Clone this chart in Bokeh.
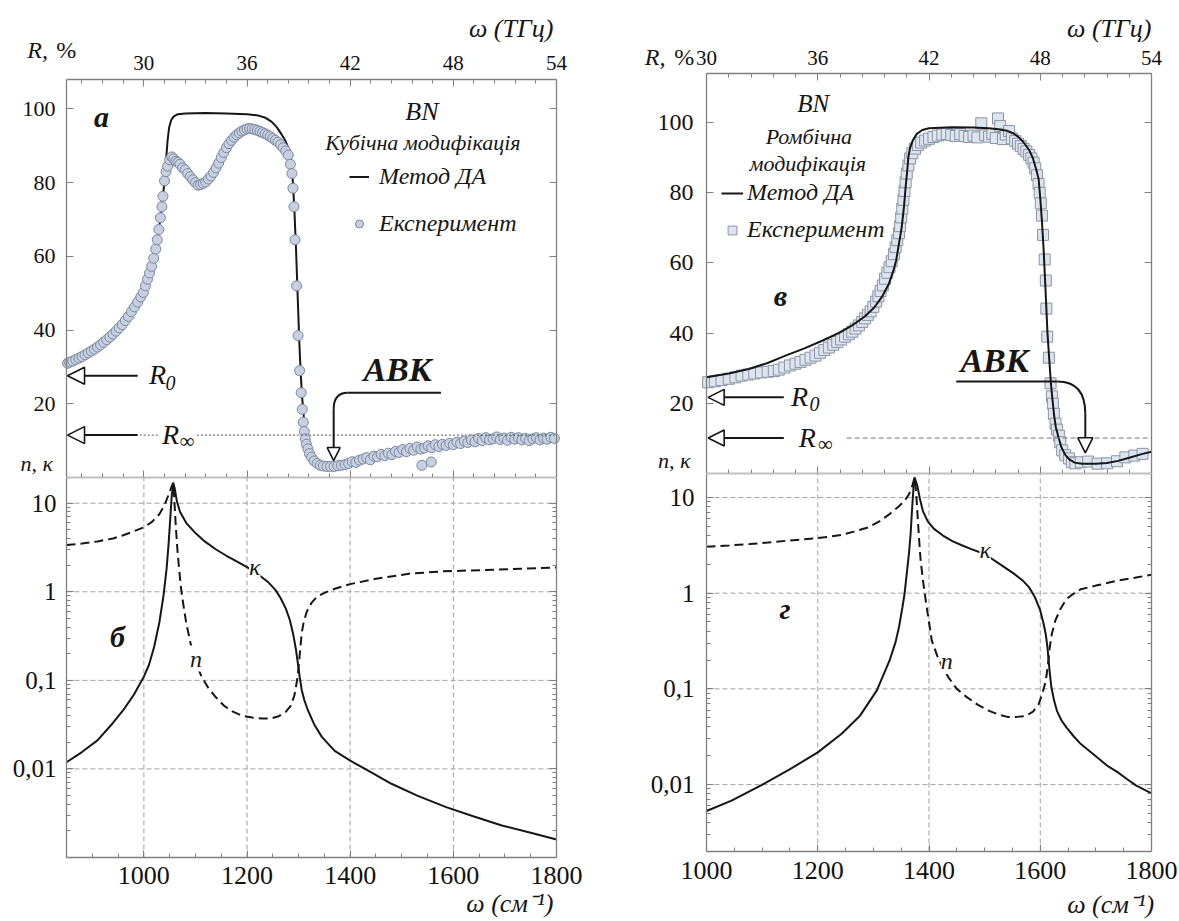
from bokeh.plotting import figure
from bokeh.layouts import row, column
from bokeh.models import (LinearAxis, LogAxis, Range1d, FixedTicker, Label, Arrow,
                          NormalHead, CustomJSTickFormatter, Legend, LegendItem)
from bokeh.embed import file_html
from bokeh.resources import INLINE
import math

FONT = "Liberation Serif"
GRAY = "#808080"
INK = "#161616"

# ---------------- data: panel a (cubic BN, reflectance) ----------------
a_model_w = [850, 900, 950, 980, 1000, 1015, 1025, 1033, 1039, 1043, 1046, 1049, 1053, 1058, 1066,
             1080, 1120, 1160, 1200, 1222, 1236, 1248, 1258, 1266, 1274, 1280, 1285, 1289, 1292,
             1295, 1298, 1301, 1304, 1307, 1310, 1315, 1320, 1327, 1337, 1350, 1365]
a_model_R = [31.0, 34.3, 40.0, 45.5, 50.5, 57.0, 63.5, 71.0, 79.0, 86.0, 91.5, 95.0, 97.0, 98.0, 98.6,
             98.8, 98.9, 98.8, 98.6, 98.2, 97.6, 96.5, 95.0, 93.3, 91.5, 89.5, 86.0, 80.0, 72.0,
             62.0, 50.0, 38.0, 28.5, 21.5, 16.5, 11.5, 8.0, 5.5, 3.8, 3.0, 2.8]

a_exp_w = [852, 856, 862, 868, 874, 880, 886, 892, 898, 904, 910, 916, 922, 928, 934, 940, 946, 952,
           958, 964, 970, 976, 982, 988, 994, 999, 1003, 1007, 1011, 1015, 1019, 1023, 1026, 1029,
           1032, 1035, 1037, 1040, 1043, 1046, 1050, 1054, 1058, 1062, 1066, 1070, 1075, 1080, 1085,
           1090, 1095, 1100, 1105, 1110, 1115, 1120, 1125, 1130, 1135, 1140, 1145, 1150, 1155, 1160,
           1165, 1170, 1175, 1180, 1185, 1190, 1195, 1200, 1205, 1210, 1215, 1220, 1225, 1230, 1235,
           1240, 1245, 1250, 1255, 1260, 1265, 1270, 1275, 1280, 1284, 1287, 1289, 1291, 1293, 1296,
           1299, 1302, 1305, 1307, 1309, 1311, 1313, 1315, 1318, 1321, 1325, 1330, 1336, 1342, 1348,
           1355, 1362, 1369, 1376, 1383, 1390, 1397, 1404, 1411, 1418, 1425, 1432, 1439, 1446, 1453,
           1460, 1467, 1474, 1481, 1488, 1495, 1502, 1509, 1516, 1523, 1530, 1537, 1539, 1544, 1551,
           1557, 1558, 1565, 1572, 1579, 1586, 1593, 1600, 1607, 1614, 1621, 1628, 1635, 1642, 1649,
           1656, 1663, 1670, 1677, 1684, 1691, 1698, 1705, 1712, 1719, 1726, 1733, 1740, 1747, 1754,
           1761, 1768, 1775, 1782, 1789, 1796]
a_exp_R = [31.0, 31.3, 31.6, 32.0, 32.4, 32.8, 33.3, 33.8, 34.3, 34.8, 35.4, 36.0, 36.7, 37.4, 38.1,
           38.9, 39.7, 40.6, 41.5, 42.6, 43.7, 45.0, 46.3, 47.6, 49.0, 50.2, 52.0, 53.8, 55.5, 57.3,
           59.5, 62.0, 64.5, 67.3, 70.5, 73.5, 76.3, 80.5, 83.0, 84.5, 86.2, 87.0, 86.5, 85.8, 85.5,
           85.0, 84.0, 83.5, 82.5, 81.6, 80.8, 80.0, 79.3, 79.5, 79.8, 80.2, 81.0, 81.8, 82.8, 84.0,
           85.3, 86.8, 88.2, 89.5, 90.6, 91.5, 92.3, 93.0, 93.5, 94.0, 94.3, 94.6, 94.7, 94.6, 94.4,
           94.2, 93.9, 93.6, 93.3, 92.9, 92.5, 92.0, 91.5, 91.0, 90.3, 89.5, 88.6, 87.5, 85.0, 82.5,
           78.5, 73.5, 64.5, 52.0, 38.5, 29.0, 23.0, 18.5, 15.0, 12.5, 10.5, 9.0, 7.8, 6.5, 5.5, 4.5,
           3.8, 3.3, 3.1, 3.0, 3.0, 3.0, 3.2, 3.3, 3.5, 3.8, 4.3, 4.1, 4.7, 5.0, 5.4, 4.8, 5.8, 5.6,
           6.3, 5.9, 6.6, 6.2, 7.1, 6.8, 7.6, 7.0, 7.9, 7.4, 8.3, 7.7, 3.3, 8.0, 8.6, 4.2, 8.1, 8.9,
           8.4, 9.0, 8.7, 9.3, 8.9, 9.6, 9.2, 9.9, 9.5, 10.2, 9.7, 10.6, 10.0, 10.8, 10.2, 10.5, 11.0,
           10.3, 10.7, 10.1, 10.9, 10.4, 10.8, 10.2, 10.6, 10.0, 10.5, 10.8, 10.2, 10.7, 10.4, 10.9,
           10.6]

# ---------------- data: panel б (cubic BN, n and kappa) ----------------
b_kappa_w = [850, 880, 910, 940, 960, 980, 1000, 1010, 1020, 1030, 1038, 1044, 1048, 1051, 1054,
             1057, 1060, 1064, 1070, 1082, 1100, 1118, 1140, 1160, 1180, 1200, 1220, 1240, 1255,
             1265, 1275, 1283, 1290, 1295, 1299, 1302, 1306, 1311, 1318, 1330, 1345, 1370, 1400,
             1440, 1480, 1530, 1586, 1640, 1694, 1750, 1800]
b_kappa = [0.0119, 0.0155, 0.021, 0.033, 0.046, 0.068, 0.11, 0.15, 0.24, 0.45, 0.9, 1.8, 3.5, 6.5,
           12.0, 17.0, 14.5, 10.5, 8.0, 6.0, 4.6, 3.7, 3.0, 2.55, 2.2, 1.9, 1.6, 1.3, 1.05, 0.85,
           0.65, 0.48, 0.32, 0.22, 0.15, 0.11, 0.078, 0.06, 0.046, 0.032, 0.023, 0.016, 0.0124,
           0.0092, 0.0068, 0.005, 0.0037, 0.0029, 0.0023, 0.0019, 0.0016]
b_n_w = [850, 880, 910, 940, 960, 980, 1000, 1015, 1030, 1040, 1048, 1054, 1057, 1059, 1062, 1065,
         1068, 1072, 1076, 1082, 1090, 1100, 1112, 1125, 1140, 1155, 1170, 1190, 1210, 1230, 1245,
         1260, 1275, 1285, 1292, 1297, 1300, 1303, 1306, 1310, 1316, 1325, 1335, 1348, 1370, 1400,
         1450, 1514, 1580, 1659, 1730, 1800]
b_n = [3.37, 3.5, 3.7, 4.0, 4.35, 4.8, 5.35, 6.1, 7.5, 9.5, 12.5, 15.5, 17.0, 11.0, 5.4, 3.0, 1.9,
       1.1, 0.75, 0.45, 0.27, 0.16, 0.11, 0.082, 0.064, 0.052, 0.045, 0.04, 0.038, 0.037, 0.037,
       0.039, 0.044, 0.052, 0.068, 0.1, 0.14, 0.22, 0.34, 0.46, 0.6, 0.75, 0.87, 0.96, 1.08, 1.22,
       1.4, 1.6, 1.7, 1.76, 1.82, 1.88]

# ---------------- data: panel в (rhombic BN, reflectance) ----------------
c_model_w = [1000, 1040, 1076, 1110, 1142, 1175, 1209, 1240, 1262, 1285, 1302, 1316, 1328, 1336,
             1341, 1346, 1351, 1355, 1358, 1361, 1363, 1366, 1371, 1378, 1388, 1400, 1441, 1480,
             1507, 1525, 1540, 1552, 1560, 1570, 1580, 1587, 1593, 1597, 1600, 1603, 1606, 1609,
             1611, 1613, 1616, 1619, 1622, 1625, 1628, 1633, 1638, 1645, 1652, 1662, 1675, 1700,
             1720, 1740, 1760, 1784, 1800]
c_model_R = [27.4, 28.5, 29.8, 31.5, 33.6, 35.6, 37.9, 40.2, 42.2, 44.8, 47.4, 50.5, 54.1, 57.8,
             60.8, 65.5, 70.3, 76.0, 81.7, 86.5, 90.3, 92.8, 95.0, 96.8, 97.9, 98.4, 98.7, 98.6,
             98.4, 98.1, 97.7, 96.9, 96.0, 94.4, 92.2, 89.8, 86.5, 84.0, 78.5, 72.0, 64.0, 54.0,
             47.0, 40.0, 33.0, 26.0, 21.0, 16.5, 13.2, 10.2, 7.5, 5.3, 4.0, 3.1, 2.8, 2.8, 3.0,
             3.6, 4.5, 5.6, 6.2]
c_exp_w = [1003, 1015, 1027, 1040, 1052, 1063, 1075, 1086, 1098, 1110, 1121, 1130, 1140, 1150, 1160,
           1169, 1178, 1187, 1196, 1204, 1212, 1220, 1228, 1235, 1242, 1249, 1256, 1262, 1268, 1274,
           1280, 1285, 1290, 1295, 1300, 1305, 1309, 1313, 1317, 1321, 1325, 1329, 1333, 1337, 1340,
           1343, 1346, 1348, 1350, 1352, 1354, 1356, 1358, 1360, 1363, 1366, 1370, 1375, 1380, 1386,
           1393, 1400, 1408, 1416, 1424, 1432, 1440, 1448, 1456, 1464, 1472, 1480, 1487, 1494, 1501,
           1508, 1514, 1520, 1524, 1528, 1533, 1538, 1544, 1549, 1555, 1560, 1565, 1570, 1575, 1580,
           1584, 1588, 1591, 1594, 1597, 1599, 1601, 1603, 1605, 1608, 1610, 1611, 1612.5, 1615.5,
           1618.5, 1621, 1622.7, 1624.5, 1627.5, 1630, 1633.5, 1636, 1639.5, 1645, 1651.5, 1657,
           1663, 1673, 1686, 1703, 1720, 1738, 1753, 1769, 1784]
c_exp_R = [26.0, 26.3, 26.6, 27.0, 27.4, 27.9, 28.2, 28.5, 28.8, 29.0, 29.2, 29.6, 30.2, 30.8, 31.3,
           31.8, 32.4, 33.0, 33.6, 34.4, 35.2, 35.9, 36.7, 37.5, 38.2, 39.0, 39.7, 40.4, 41.3, 42.2,
           43.2, 44.2, 45.2, 46.2, 47.5, 49.0, 50.5, 52.0, 53.6, 55.5, 57.2, 58.8, 60.5, 62.5, 64.5,
           66.5, 68.5, 70.5, 73.0, 75.5, 78.0, 80.5, 83.0, 85.5, 87.8, 89.8, 91.3, 92.6, 93.6, 94.3,
           94.9, 95.4, 95.9, 96.3, 96.6, 96.8, 96.5, 96.2, 96.7, 96.2, 95.9, 96.3, 95.8, 99.8, 96.4,
           96.0, 96.8, 95.6, 101.2, 99.0, 95.3, 96.6, 97.6, 95.5, 94.8, 94.0, 93.3, 92.5, 91.8, 90.8,
           89.8, 88.6, 87.0, 85.0, 82.5, 80.0, 77.0, 73.5, 68.0, 61.0, 55.0, 47.0, 39.0, 33.0,
           25.7, 22.0, 19.9, 17.0, 14.2, 12.5, 10.8, 8.9, 6.6, 5.2, 4.3, 3.2,
           2.9, 3.2, 3.4, 2.8, 2.9, 3.5, 4.6, 5.1, 5.6]

# ---------------- data: panel г (rhombic BN, n and kappa) ----------------
d_kappa_w = [1000, 1045, 1098, 1151, 1200, 1243, 1276, 1306, 1329, 1340, 1346, 1352, 1356, 1360,
             1364, 1367, 1369, 1371, 1372.5, 1374, 1376, 1379, 1384, 1389, 1398, 1409, 1425, 1442,
             1460, 1475, 1501, 1528, 1554, 1570, 1580, 1590, 1600, 1606, 1610, 1613, 1615, 1617,
             1620, 1625, 1630, 1638, 1647, 1660, 1673, 1690, 1706, 1720, 1739, 1755, 1772, 1800]
d_kappa = [0.0053, 0.0068, 0.0098, 0.0146, 0.0217, 0.034, 0.0525, 0.096, 0.197, 0.31, 0.44, 0.7,
           0.98, 1.6, 2.6, 4.2, 6.7, 10.0, 13.8, 16.2, 15.0, 13.2, 9.5, 7.2, 5.6, 4.7, 4.0, 3.5,
           3.15, 2.9, 2.55, 2.0, 1.58, 1.33, 1.15, 0.92, 0.66, 0.48, 0.37, 0.27, 0.2, 0.15, 0.104,
           0.075, 0.059, 0.047, 0.0396, 0.032, 0.0265, 0.022, 0.0185, 0.0158, 0.0135, 0.0115,
           0.0098, 0.0081]
d_n_w = [1000, 1040, 1078, 1110, 1144, 1170, 1200, 1225, 1243, 1265, 1290, 1310, 1329, 1345, 1356,
         1364, 1369, 1374, 1377, 1379, 1382, 1385, 1390, 1395, 1400, 1405, 1415, 1425, 1435, 1450,
         1468, 1488, 1508, 1525, 1541, 1558, 1574, 1587, 1597, 1604, 1610, 1614, 1617, 1621, 1627,
         1636, 1647, 1660, 1673, 1700, 1739, 1770, 1800]
d_n = [3.05, 3.15, 3.26, 3.38, 3.53, 3.64, 3.76, 3.92, 4.07, 4.4, 4.86, 5.6, 6.7, 8.0, 9.2, 10.8,
       12.7, 16.0, 11.0, 7.2, 3.8, 2.18, 1.25, 0.77, 0.5, 0.32, 0.22, 0.165, 0.132, 0.1, 0.082,
       0.068, 0.059, 0.054, 0.051, 0.051, 0.052, 0.058, 0.069, 0.09, 0.122, 0.18, 0.27, 0.38,
       0.515, 0.68, 0.87, 0.99, 1.1, 1.2, 1.35, 1.45, 1.56]

# characteristic levels
a_R0, a_Rinf = 27.6, 11.5
c_R0, c_Rinf = 21.7, 10.1

cm_ticks = [1000, 1200, 1400, 1600, 1800]
thz_ticks = [30, 36, 42, 48, 54]
R_ticks = [20, 40, 60, 80, 100]
log_ticks = [0.01, 0.1, 1, 10]
log_minor = [m * 10.0 ** e for e in (-3, -2, -1, 0, 1) for m in range(2, 10)]
THZ_PER_CM = 0.03

# ---------------- layout geometry (pixels) ----------------
WL, WR = 596, 583           # column widths
H1, H2 = 477, 444           # left column figure heights
H3, H4 = 473, 448           # right column figure heights


def lin_range(v0, v1, p0, p1, total):
    k = (v1 - v0) / (p1 - p0)
    return (v0 - p0 * k, v1 + (total - p1) * k)


def log_range_top(v0, v1, panel_h, total):
    """log axis whose panel occupies the top panel_h pixels of a canvas of height total"""
    dec = math.log10(v1 / v0) / panel_h
    return (10 ** (math.log10(v0) - (total - panel_h) * dec), v1)


def make_fig(w, h, xr, yr, log=False):
    p = figure(width=w, height=h, frame_width=w, frame_height=h,
               x_range=Range1d(*xr), y_range=Range1d(*yr),
               x_axis_location=None, y_axis_location=None,
               y_axis_type="log" if log else "linear",
               toolbar_location=None, output_backend="svg",
               min_border_left=0, min_border_right=0, min_border_top=0, min_border_bottom=0)
    p.outline_line_color = None
    p.background_fill_color = "white"
    p.border_fill_color = "white"
    p.grid.visible = False
    return p


def style_axis(ax, size=22, labels=True, standoff=9, fmt=None):
    ax.axis_line_color = GRAY
    ax.axis_line_width = 1.3
    ax.major_tick_line_color = GRAY
    ax.minor_tick_line_color = GRAY
    ax.major_tick_in = 7
    ax.major_tick_out = 0
    ax.minor_tick_in = 4
    ax.minor_tick_out = 0
    ax.major_label_text_font = FONT
    ax.major_label_text_font_size = f"{size}px"
    ax.major_label_text_color = "#111111"
    ax.major_label_standoff = standoff
    if not labels:
        ax.formatter = CustomJSTickFormatter(code="return ''")
    elif fmt is not None:
        ax.formatter = fmt
    return ax


def lab(p, x, y, text, size, style="italic", align="left", baseline="middle", bg=None):
    kw = dict(x=x, y=y, text=text, text_font=FONT, text_font_size=f"{size}px",
              text_font_style=style, text_align=align, text_baseline=baseline,
              text_color=INK)
    if bg:
        kw["background_fill_color"] = bg
    p.add_layout(Label(**kw))


def arrow(p, x0, y0, x1, y1, size):
    p.add_layout(Arrow(end=NormalHead(size=size, fill_color="white", line_color=INK, line_width=1.6),
                       x_start=x0, y_start=y0, x_end=x1, y_end=y1, line_color=INK, line_width=2))


def grid_lines(p, xs, ys, xlim, ylim):
    p.segment(x0=xs, y0=[ylim[0]] * len(xs), x1=xs, y1=[ylim[1]] * len(xs),
              line_color="#a0a0a0", line_width=1, line_dash="5 3")
    p.segment(x0=[xlim[0]] * len(ys), y0=ys, x1=[xlim[1]] * len(ys), y1=ys,
              line_color="#a0a0a0", line_width=1, line_dash="5 3")


comma_fmt = CustomJSTickFormatter(code="return tick < 1 ? tick.toString().replace('.', ',') : tick.toString()")


def r_axes(p, xlim, ylim, ticks, size, standoff):
    p.add_layout(style_axis(LinearAxis(ticker=FixedTicker(ticks=ticks, minor_ticks=[]),
                                       fixed_location=xlim[0], bounds=ylim), size, standoff=standoff), "left")
    p.add_layout(style_axis(LinearAxis(ticker=FixedTicker(ticks=ticks, minor_ticks=[]),
                                       fixed_location=xlim[1], bounds=ylim), labels=False), "right")


def log_axes(p, xlim, ylim, size, standoff):
    minor = [v for v in log_minor if ylim[0] < v < ylim[1]]
    p.add_layout(style_axis(LogAxis(ticker=FixedTicker(ticks=log_ticks, minor_ticks=minor),
                                    fixed_location=xlim[0], bounds=ylim), size, standoff=standoff,
                            fmt=comma_fmt), "left")
    p.add_layout(style_axis(LogAxis(ticker=FixedTicker(ticks=log_ticks, minor_ticks=minor),
                                    fixed_location=xlim[1], bounds=ylim), labels=False), "right")


# =================== panel а ===================
AX = (850, 1800)
AY = (0, 108)
xr_a = lin_range(AX[0], AX[1], 66, 556, WL)
p1 = make_fig(WL, H1, xr_a, lin_range(AY[0], AY[1], 0, 398, H1))
p1.extra_x_ranges = {"thz": Range1d(xr_a[0] * THZ_PER_CM, xr_a[1] * THZ_PER_CM)}
r_axes(p1, AX, AY, R_ticks, 22, 11)
thz_minor_a = [round(30 + 1.2 * k, 2) for k in range(-3, 21) if k % 5 != 0]
p1.add_layout(style_axis(LinearAxis(x_range_name="thz",
                                    ticker=FixedTicker(ticks=thz_ticks, minor_ticks=thz_minor_a),
                                    fixed_location=AY[1],
                                    bounds=(AX[0] * THZ_PER_CM, AX[1] * THZ_PER_CM)), 21, standoff=10), "above")
p1.add_layout(style_axis(LinearAxis(ticker=FixedTicker(ticks=cm_ticks,
                                                       minor_ticks=[v for v in range(880, 1800, 40) if v % 200]),
                                    fixed_location=AY[0], bounds=AX), labels=False), "below")

ln_a = p1.line(a_model_w, a_model_R, line_color=INK, line_width=2)
sc_a = p1.scatter(a_exp_w, a_exp_R, marker="circle", size=10, fill_color="#c6d0e1",
                  line_color="#7b879d", line_width=1)

p1.add_layout(Legend(items=[LegendItem(label="Метод ДА", renderers=[ln_a]),
                            LegendItem(label="Експеримент", renderers=[sc_a])],
                     location=(349, 240), orientation="vertical", background_fill_alpha=0,
                     border_line_color=None, label_text_font=FONT, label_text_font_style="italic",
                     label_text_font_size="24px", label_text_color=INK, glyph_width=20, glyph_height=23,
                     label_height=23, spacing=20, label_standoff=10, padding=0, margin=0))

lab(p1, 774, 116.1, "R,", 24)
lab(p1, 830, 116.1, "%", 24, style="normal")
lab(p1, 1794, 121.8, "ω (ТГц)", 26, align="right")
lab(p1, 918, 98, "а", 30, style="bold italic", align="center")
lab(p1, 1539, 99.2, "BN", 26, align="center")
lab(p1, 1541, 91, "Кубічна модифікація", 22, align="center")
arrow(p1, 988, a_R0, 852, a_R0, 17)
lab(p1, 1010, a_R0 + 0.4, "R", 28)
lab(p1, 1042, a_R0 - 2.0, "0", 20)
arrow(p1, 988, a_Rinf, 852, a_Rinf, 17)
lab(p1, 1035, a_Rinf + 0.3, "R", 28)
lab(p1, 1069, a_Rinf - 1.6, "∞", 21, style="normal")
p1.line([992, 1031], [a_Rinf, a_Rinf], line_color="#555555", line_width=1, line_dash="2 2")
p1.line([1103, 1800], [a_Rinf, a_Rinf], line_color="#555555", line_width=1, line_dash="2 2")
lab(p1, 1492, 29.3, "АВК", 34, style="bold italic", align="center")
p1.line([1395, 1576], [23, 23], line_color=INK, line_width=2)
p1.quadratic(x0=[1395], y0=[23], x1=[1368], y1=[18.5], cx=[1368], cy=[23], line_color=INK, line_width=2)
arrow(p1, 1368, 18.5, 1368, 4.6, 13)
lab(p1, 761, 3.8, "n, κ", 22)

# =================== panel б ===================
BY = (0.001, 19.5)
p2 = make_fig(WL, H2, xr_a, log_range_top(BY[0], BY[1], 380, H2), log=True)
log_axes(p2, AX, BY, 25, 10)
p2.add_layout(style_axis(LinearAxis(ticker=FixedTicker(ticks=cm_ticks,
                                                       minor_ticks=[v for v in range(850, 1801, 50) if v % 200]),
                                    fixed_location=BY[0], bounds=AX), 26, standoff=9), "below")
p2.add_layout(style_axis(LinearAxis(ticker=FixedTicker(ticks=[], minor_ticks=[]),
                                    fixed_location=BY[1], bounds=AX), labels=False), "above")
grid_lines(p2, cm_ticks[:-1], log_ticks, AX, BY)
p2.line(b_n_w, b_n, line_color=INK, line_width=2, line_dash="9 5")
p2.line(b_kappa_w, b_kappa, line_color=INK, line_width=2)
lab(p2, 1215, 1.9, "κ", 24, align="center", bg="white")
lab(p2, 1101, 0.176, "n", 24, align="center", bg="white")
lab(p2, 949, 0.31, "б", 30, style="bold italic", align="center")
lab(p2, 1794, 0.00030, "ω (см⁻¹)", 26, align="right")

# =================== panel в ===================
CX = (1000, 1800)
CY = (0, 114)
xr_c = lin_range(CX[0], CX[1], 110, 555, WR)
p3 = make_fig(WR, H3, xr_c, lin_range(CY[0], CY[1], 0, 400, H3))
p3.extra_x_ranges = {"thz": Range1d(xr_c[0] * THZ_PER_CM, xr_c[1] * THZ_PER_CM)}
r_axes(p3, CX, CY, R_ticks, 24, 13)
thz_minor_c = [round(30 + 1.2 * k, 2) for k in range(1, 20) if k % 5 != 0]
p3.add_layout(style_axis(LinearAxis(x_range_name="thz",
                                    ticker=FixedTicker(ticks=thz_ticks, minor_ticks=thz_minor_c),
                                    fixed_location=CY[1],
                                    bounds=(CX[0] * THZ_PER_CM, CX[1] * THZ_PER_CM)), 21, standoff=9), "above")
p3.add_layout(style_axis(LinearAxis(ticker=FixedTicker(ticks=cm_ticks,
                                                       minor_ticks=[v for v in range(1000, 1800, 40) if v % 200]),
                                    fixed_location=CY[0], bounds=CX), labels=False), "below")

sc_c = p3.scatter(c_exp_w, c_exp_R, marker="square", size=11, fill_color="#dde4ee",
                  line_color="#8a94a4", line_width=1)
ln_c = p3.line(c_model_w, c_model_R, line_color=INK, line_width=2)

p3.add_layout(Legend(items=[LegendItem(label="Метод ДА", renderers=[ln_c]),
                            LegendItem(label="Експеримент", renderers=[sc_c])],
                     location=(125, 230), orientation="vertical", background_fill_alpha=0,
                     border_line_color=None, label_text_font=FONT, label_text_font_style="italic",
                     label_text_font_size="24px", label_text_color=INK, glyph_width=22, glyph_height=22,
                     label_height=22, spacing=10, label_standoff=4, padding=0, margin=0))

lab(p3, 889, 118.8, "R,", 24)
lab(p3, 942, 118.8, "%", 24, style="normal")
lab(p3, 1800, 126.8, "ω (ТГц)", 26, align="right")
lab(p3, 1192, 105.5, "BN", 25, align="center")
lab(p3, 1184, 96, "Ромбічна", 22, align="center")
lab(p3, 1182, 88.4, "модифікація", 22, align="center")
lab(p3, 1133, 50.8, "в", 30, style="bold italic", align="center")
arrow(p3, 1139, c_R0, 1003, c_R0, 16)
lab(p3, 1152, c_R0 + 0.3, "R", 28)
lab(p3, 1185, c_R0 - 1.9, "0", 20)
arrow(p3, 1139, c_Rinf, 1003, c_Rinf, 16)
lab(p3, 1166, c_Rinf + 0.3, "R", 28)
lab(p3, 1200, c_Rinf - 1.6, "∞", 21, style="normal")
p3.line([1252, 1800], [c_Rinf, c_Rinf], line_color="#777777", line_width=1, line_dash="5 3")
lab(p3, 1518, 32.2, "АВК", 34, style="bold italic", align="center")
p3.line([1449, 1631], [26.2, 26.2], line_color=INK, line_width=2)
p3.quadratic(x0=[1631], y0=[26.2], x1=[1681], y1=[17.0], cx=[1681], cy=[26.2], line_color=INK, line_width=2)
arrow(p3, 1681, 17.0, 1681, 5.9, 15)
lab(p3, 913, 3.7, "n, κ", 22)

# =================== panel г ===================
DY = (0.002, 17.8)
p4 = make_fig(WR, H4, xr_c, log_range_top(DY[0], DY[1], 378, H4), log=True)
log_axes(p4, CX, DY, 25, 12)
p4.add_layout(style_axis(LinearAxis(ticker=FixedTicker(ticks=cm_ticks,
                                                       minor_ticks=[v for v in range(1000, 1800, 50) if v % 200]),
                                    fixed_location=DY[0], bounds=CX), 26, standoff=10), "below")
p4.add_layout(style_axis(LinearAxis(ticker=FixedTicker(ticks=[], minor_ticks=[]),
                                    fixed_location=DY[1], bounds=CX), labels=False), "above")
grid_lines(p4, cm_ticks[1:-1], log_ticks, CX, DY)
p4.line(d_n_w, d_n, line_color=INK, line_width=2, line_dash="9 5")
p4.line(d_kappa_w, d_kappa, line_color=INK, line_width=2)
lab(p4, 1501, 2.82, "κ", 24, align="center", bg="white")
lab(p4, 1432, 0.197, "n", 24, align="center", bg="white")
lab(p4, 1141, 0.70, "г", 30, style="bold italic", align="center")
lab(p4, 1805, 0.00056, "ω (см⁻¹)", 26, align="right")

layout = row(column(p1, p2, spacing=0), column(p3, p4, spacing=0), spacing=0)
open("out.html", "w").write(file_html(layout, INLINE))
